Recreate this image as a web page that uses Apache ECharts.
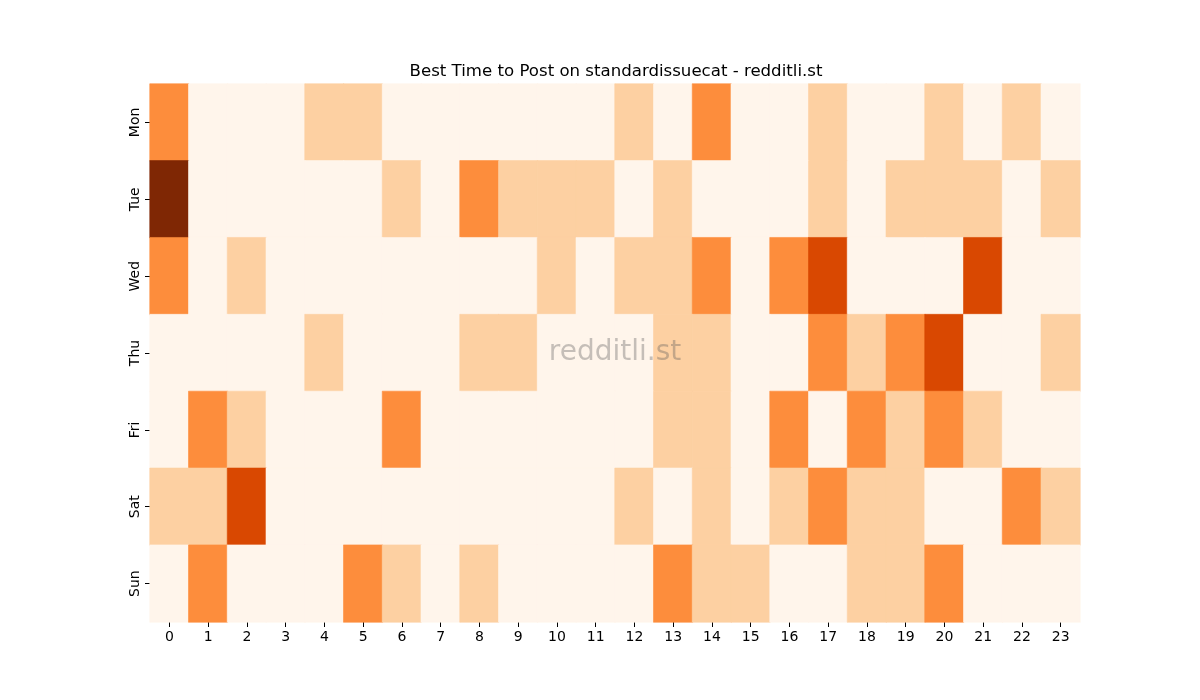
<!DOCTYPE html>
<html>
<head>
<meta charset="utf-8">
<script src="https://cdn.jsdelivr.net/npm/echarts@6/dist/echarts.min.js"></script>
<style>
  html, body { margin: 0; padding: 0; background: #fff; }
  #chart { width: 1200px; height: 700px; }
</style>
</head>
<body>
<div id="chart"></div>
<script>
// hours along x, weekdays down y
const hours = ['0','1','2','3','4','5','6','7','8','9','10','11','12','13','14','15','16','17','18','19','20','21','22','23'];
const days = ['Mon', 'Tue', 'Wed', 'Thu', 'Fri', 'Sat', 'Sun'];

// activity level per hour, one row per day
const mon = [2,0,0,0,1,1,0,0,0,0,0,0,1,0,2,0,0,1,0,0,1,0,1,0];
const tue = [4,0,0,0,0,0,1,0,2,1,1,1,0,1,0,0,0,1,0,1,1,1,0,1];
const wed = [2,0,1,0,0,0,0,0,0,0,1,0,1,1,2,0,2,3,0,0,0,3,0,0];
const thu = [0,0,0,0,1,0,0,0,1,1,0,0,0,1,1,0,0,2,1,2,3,0,0,1];
const fri = [0,2,1,0,0,0,2,0,0,0,0,0,0,1,1,0,2,0,2,1,2,1,0,0];
const sat = [1,1,3,0,0,0,0,0,0,0,0,0,1,0,1,0,1,2,1,1,0,0,2,1];
const sun = [0,2,0,0,0,2,1,0,1,0,0,0,0,2,1,1,0,0,1,1,2,0,0,0];

// Oranges, one shade per level
const shades = ['#fff5eb', '#fdd0a2', '#fd8d3c', '#d94801', '#7f2704'];

const rows = [mon, tue, wed, thu, fri, sat, sun];
const data = [];
rows.forEach((row, d) => {
  row.forEach((v, h) => {
    // border in the same colour hides the hairline seams between cells
    data.push({
      value: [h, d, v],
      itemStyle: { color: shades[v], borderColor: shades[v], borderWidth: 0.6 }
    });
  });
});

const chart = echarts.init(document.getElementById('chart'), null, { renderer: 'canvas' });

const axisFont = { fontFamily: 'DejaVu Sans', fontSize: 14, color: '#000' };

chart.setOption({
  animation: false,
  backgroundColor: '#fff',
  title: {
    text: 'Best Time to Post on standardissuecat - redditli.st',
    left: 611,
    textAlign: 'center',
    top: 58,
    textStyle: { fontFamily: 'DejaVu Sans', fontSize: 16.6, fontWeight: 'normal', color: '#000' }
  },
  grid: { left: 150, right: 120, top: 84, bottom: 78 },
  xAxis: {
    type: 'category',
    data: hours,
    axisLine: { show: false },
    axisTick: { show: true, alignWithLabel: true, length: 5, lineStyle: { color: '#000' } },
    axisLabel: Object.assign({ margin: 8 }, axisFont),
    splitLine: { show: false }
  },
  yAxis: {
    type: 'category',
    data: days,
    inverse: true,
    axisLine: { show: false },
    axisTick: { show: true, alignWithLabel: true, length: 5, lineStyle: { color: '#000' } },
    axisLabel: Object.assign({ rotate: 90, margin: 8 }, axisFont),
    splitLine: { show: false }
  },
  series: [{
    type: 'heatmap',
    data: data,
    emphasis: { disabled: true }
  }],
  graphic: [{
    type: 'text',
    x: 615,
    y: 353,
    z: 100,
    style: {
      text: 'redditli.st',
      align: 'center',
      verticalAlign: 'middle',
      fontFamily: 'DejaVu Sans',
      fontSize: 28,
      fill: 'rgba(90, 90, 90, 0.35)'
    }
  }]
});
</script>
</body>
</html>
